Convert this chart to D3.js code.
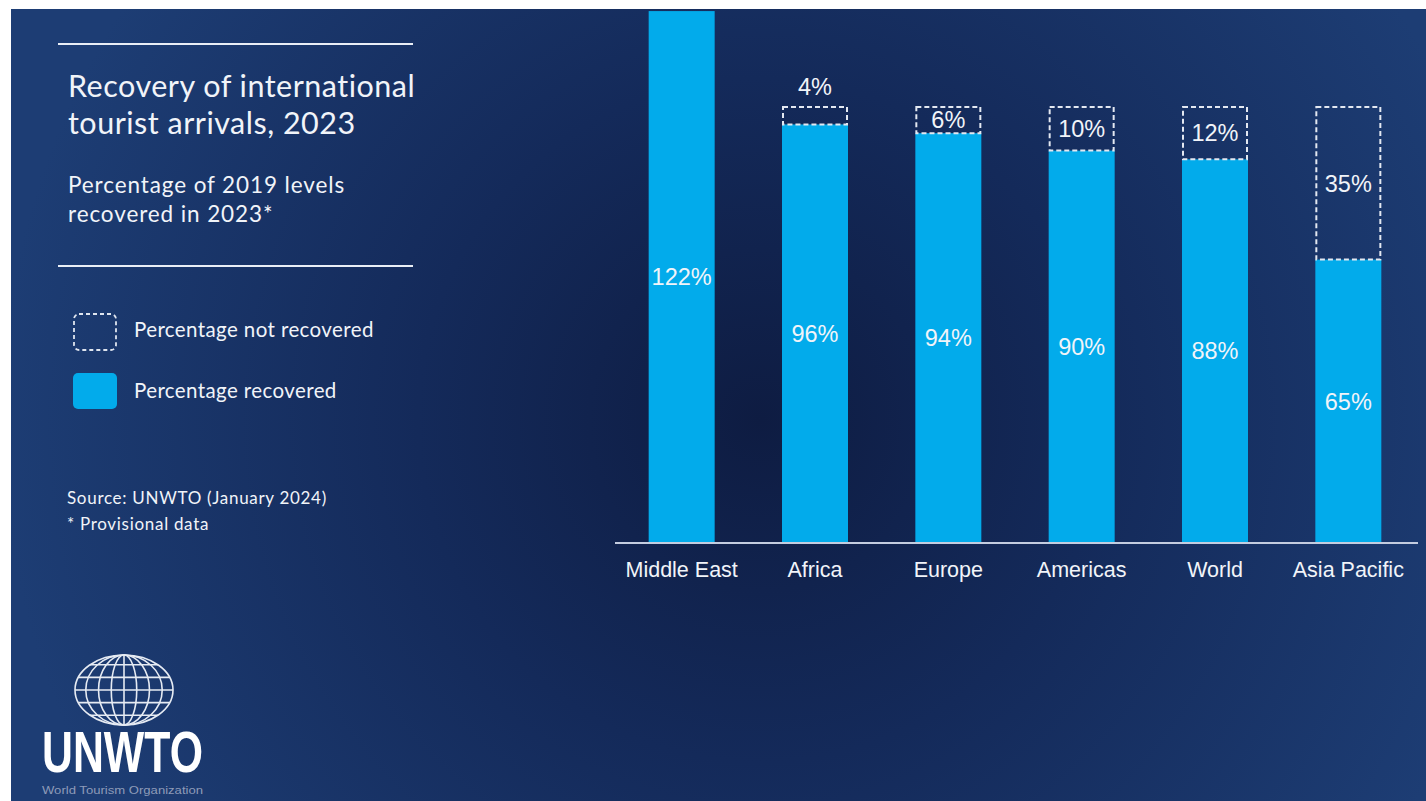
<!DOCTYPE html>
<html>
<head>
<meta charset="utf-8">
<script src="https://cdn.jsdelivr.net/npm/d3@7/dist/d3.min.js"></script>
<style>
  html, body { margin: 0; padding: 0; background: #ffffff; }
  svg { display: block; }
</style>
</head>
<body>
<svg id="chart" width="1426" height="801"></svg>
<script>
// Recovery of international tourist arrivals, 2023 (% of 2019 levels)
const regions = ["Middle East", "Africa", "Europe", "Americas", "World", "Asia Pacific"];
const recovered = [122, 96, 94, 90, 88, 65];
const notRecovered = [0, 4, 6, 10, 12, 35];

const titleLines = ["Recovery of international", "tourist arrivals, 2023"];
const subtitleLines = ["Percentage of 2019 levels", "recovered in 2023*"];
const legendLabels = ["Percentage not recovered", "Percentage recovered"];
const noteLines = ["Source: UNWTO (January 2024)", "* Provisional data"];

const W = 1426, H = 801;
const BLUE = "#02abeb";
const TEXT = "#f1f4f9";
const panelFont = "Lato, 'Open Sans', sans-serif";
const chartFont = "'Liberation Sans', Arial, sans-serif";

const svg = d3.select("#chart");
const defs = svg.append("defs");

// Navy backdrop, darker towards the middle of the slide
const bg = defs.append("radialGradient")
  .attr("id", "bgGrad")
  .attr("gradientUnits", "userSpaceOnUse")
  .attr("cx", 760).attr("cy", 420).attr("r", 760);
bg.append("stop").attr("offset", 0).attr("stop-color", "#0e1c42");
bg.append("stop").attr("offset", 0.45).attr("stop-color", "#142a5a");
bg.append("stop").attr("offset", 1).attr("stop-color", "#1d3d74");

svg.append("rect")
  .attr("x", 11).attr("y", 9)
  .attr("width", W - 11).attr("height", H - 9)
  .attr("fill", "url(#bgGrad)");

// ---- Left panel: title, subtitle, legend, notes ----
const panel = svg.append("g");
[44, 266].forEach(y => {
  panel.append("line")
    .attr("x1", 58).attr("x2", 413).attr("y1", y).attr("y2", y)
    .attr("stroke", "#e9eef6").attr("stroke-width", 2);
});

panel.selectAll("text.title").data(titleLines).join("text")
  .attr("class", "title")
  .attr("x", 68).attr("y", (d, i) => 97 + i * 37)
  .attr("font-family", panelFont).attr("font-size", 30.5)
  .attr("letter-spacing", 0.5)
  .attr("fill", TEXT).text(d => d);

panel.selectAll("text.subtitle").data(subtitleLines).join("text")
  .attr("class", "subtitle")
  .attr("x", 68).attr("y", (d, i) => 193 + i * 29)
  .attr("font-family", panelFont).attr("font-size", 22.5)
  .attr("letter-spacing", 0.9)
  .attr("fill", TEXT).text(d => d);

// Legend swatches
panel.append("rect")
  .attr("x", 74).attr("y", 314).attr("width", 42).attr("height", 36)
  .attr("rx", 5)
  .attr("fill", "none").attr("stroke", "#dfe5ef")
  .attr("stroke-width", 1.8).attr("stroke-dasharray", "4,3");
panel.append("rect")
  .attr("x", 73).attr("y", 373).attr("width", 44).attr("height", 36)
  .attr("rx", 5).attr("fill", BLUE);

panel.selectAll("text.legend").data(legendLabels).join("text")
  .attr("class", "legend")
  .attr("x", 134).attr("y", (d, i) => 337 + i * 61)
  .attr("font-family", panelFont).attr("font-size", 20.5)
  .attr("letter-spacing", 0.4)
  .attr("fill", TEXT).text(d => d);

panel.selectAll("text.note").data(noteLines).join("text")
  .attr("class", "note")
  .attr("x", 67).attr("y", (d, i) => 504 + i * 26)
  .attr("font-family", panelFont).attr("font-size", 17)
  .attr("letter-spacing", 0.7)
  .attr("fill", TEXT).text(d => d);

// ---- Logo: wireframe globe + wordmark ----
const logo = svg.append("g");
const gx = 124, gy = 690, grx = 49, gry = 35;
const wire = { fill: "none", stroke: "#e6ebf3", "stroke-width": 1.6 };
function styled(sel) { Object.entries(wire).forEach(([k, v]) => sel.attr(k, v)); return sel; }
styled(logo.append("ellipse").attr("cx", gx).attr("cy", gy).attr("rx", grx).attr("ry", gry));
[0.26, 0.52, 0.78].forEach(f => {
  styled(logo.append("ellipse").attr("cx", gx).attr("cy", gy).attr("rx", grx * f).attr("ry", gry));
});
styled(logo.append("line").attr("x1", gx).attr("x2", gx).attr("y1", gy - gry).attr("y2", gy + gry));
[-0.72, -0.36, 0, 0.36, 0.72].forEach(f => {
  const y = gy + gry * f;
  const half = grx * Math.sqrt(1 - f * f);
  styled(logo.append("line").attr("x1", gx - half).attr("x2", gx + half).attr("y1", y).attr("y2", y));
});
logo.append("text")
  .attr("x", 42).attr("y", 772)
  .attr("textLength", 161).attr("lengthAdjust", "spacingAndGlyphs")
  .attr("font-family", chartFont).attr("font-weight", "bold").attr("font-size", 58)
  .attr("fill", "#ffffff").text("UNWTO");
logo.append("text")
  .attr("x", 42).attr("y", 794)
  .attr("textLength", 161).attr("lengthAdjust", "spacingAndGlyphs")
  .attr("font-family", chartFont).attr("font-size", 11.5)
  .attr("fill", "#8e9bb8").text("World Tourism Organization");

// ---- Bar chart ----
const baseY = 543;
const x = d3.scaleBand().domain(regions).range([615, 1415]).paddingInner(0.505).paddingOuter(0.2525);
const y = d3.scaleLinear().domain([0, 100]).range([baseY, 107]);

const rows = regions.map((r, i) => ({ region: r, rec: recovered[i], miss: notRecovered[i] }));
const chart = svg.append("g");

chart.selectAll("rect.rec").data(rows).join("rect")
  .attr("class", "rec")
  .attr("x", d => x(d.region)).attr("width", x.bandwidth())
  .attr("y", d => y(d.rec)).attr("height", d => baseY - y(d.rec))
  .attr("fill", BLUE);

const gaps = rows.filter(d => d.miss > 0);
chart.selectAll("rect.miss").data(gaps).join("rect")
  .attr("class", "miss")
  .attr("x", d => x(d.region) + 1).attr("width", x.bandwidth() - 2)
  .attr("y", d => y(d.rec + d.miss)).attr("height", d => y(d.rec) - y(d.rec + d.miss))
  .attr("fill", "none").attr("stroke", "#e3e8f1")
  .attr("stroke-width", 2).attr("stroke-dasharray", "5,3");

// values inside the recovered bars
chart.selectAll("text.recLabel").data(rows).join("text")
  .attr("class", "recLabel")
  .attr("x", d => x(d.region) + x.bandwidth() / 2)
  .attr("y", d => (y(d.rec) + baseY) / 2)
  .attr("dy", "0.35em").attr("text-anchor", "middle")
  .attr("font-family", chartFont).attr("font-size", 23.5)
  .attr("fill", TEXT).text(d => d.rec + "%");

// values for the missing share: inside the dashed box, or above it when the box is short
chart.selectAll("text.missLabel").data(gaps).join("text")
  .attr("class", "missLabel")
  .attr("x", d => x(d.region) + x.bandwidth() / 2)
  .attr("y", d => {
    const top = y(d.rec + d.miss), bottom = y(d.rec);
    return (bottom - top) < 22 ? top - 20 : (top + bottom) / 2;
  })
  .attr("dy", "0.35em").attr("text-anchor", "middle")
  .attr("font-family", chartFont).attr("font-size", 23.5)
  .attr("fill", TEXT).text(d => d.miss + "%");

// category axis
const axis = chart.append("g")
  .attr("transform", `translate(0,${baseY})`)
  .call(d3.axisBottom(x).tickSize(0).tickPadding(19));
axis.select(".domain").attr("stroke", "#c4cde0").attr("stroke-width", 2)
  .attr("d", "M615,0H1418");
axis.selectAll("text")
  .attr("font-family", chartFont).attr("font-size", 21.5)
  .attr("fill", TEXT);
</script>
</body>
</html>
